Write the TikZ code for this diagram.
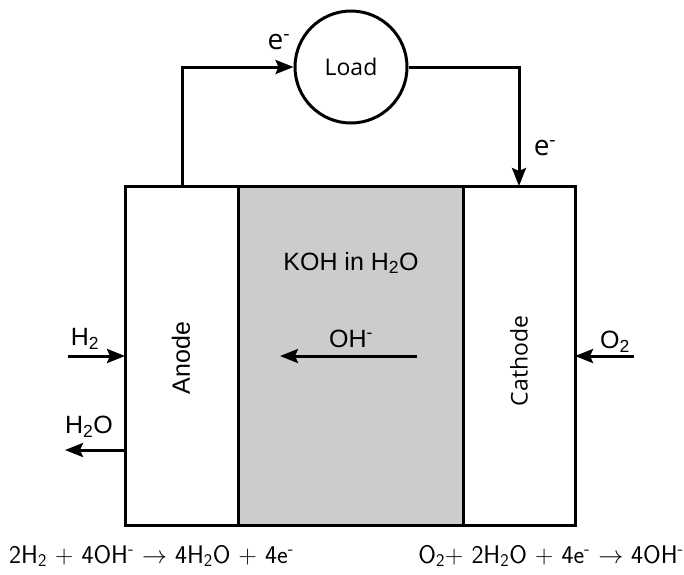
\documentclass[tikz,border=0pt]{standalone}
\usepackage{fontspec}
\setmainfont{Liberation Sans}
\newfontfamily\opensans{Open Sans}
\newfontfamily\lmsans{Latin Modern Sans}
\usetikzlibrary{arrows.meta}
\begin{document}
\begin{tikzpicture}[x=1pt,y=-1pt,
  wire/.style={line width=3pt},
  arr/.style={line width=3pt,-{Stealth[length=18pt,width=14pt,inset=3pt]}},
  lbl/.style={font=\fontsize{25}{29}\selectfont,inner sep=0pt},
  olbl/.style={font=\opensans\fontsize{23}{27}\selectfont,inner sep=0pt},
  elbl/.style={font=\opensans\fontsize{28}{32}\selectfont,inner sep=0pt},
  eqn/.style={font=\lmsans\fontsize{25.5}{30}\selectfont,inner sep=0pt}]
\useasboundingbox (0,0) rectangle (684,574);
% boxes
\fill[gray!40] (238,186) rectangle (463,525);
\draw[wire] (125,186) rectangle (575,525);
\draw[wire] (238,186) -- (238,525);
\draw[wire] (463,186) -- (463,525);
\node[circle,draw,line width=3pt,minimum size=112pt,inner sep=0pt,olbl] (load) at (351,67) {Load};
\coordinate (atop) at (182,186);
\coordinate (ctop) at (519,186);
\draw[arr] (atop) |- (load.west);
\draw[arr] (load.east) -| (ctop);
\node[elbl] (e1) at (279,42) {e\textsuperscript{-}};
\node[elbl] (e2) at (545,148) {e\textsuperscript{-}};
% labels
\node[lbl,rotate=90] (anode) at (181,358) {Anode};
\node[olbl,rotate=90] (cathode) at (519,361) {Cathode};
\node[lbl] (koh) at (351,263) {KOH in H\textsubscript{2}O};
\node[lbl] (oh) at (351,339) {OH\textsuperscript{-}};
\coordinate (ohs) at (417,356);
\coordinate (ohe) at (280,356);
\draw[arr] (ohs) -- (ohe);
% inputs/outputs
\coordinate (h2s) at (68,356);
\coordinate (h2e) at (125,356);
\draw[arr] (h2s) -- (h2e);
\node[lbl] (h2) at (85,339) {H\textsubscript{2}};
\coordinate (h2os) at (125,450);
\coordinate (h2oe) at (65,450);
\draw[arr] (h2os) -- (h2oe);
\node[lbl] (h2o) at (89,427) {H\textsubscript{2}O};
\coordinate (o2s) at (634,356);
\coordinate (o2e) at (575,356);
\draw[arr] (o2s) -- (o2e);
\node[lbl] (o2) at (615,342) {O\textsubscript{2}};
% equations
\node[eqn,anchor=west] (eq1) at (9,556) {2H\textsubscript{2} + 4OH\textsuperscript{-} $\rightarrow$ 4H\textsubscript{2}O + 4e\textsuperscript{-}};
\node[eqn,anchor=east] (eq2) at (684,556) {O\textsubscript{2}+ 2H\textsubscript{2}O + 4e\textsuperscript{-} $\rightarrow$ 4OH\textsuperscript{-}};
\end{tikzpicture}
\end{document}
